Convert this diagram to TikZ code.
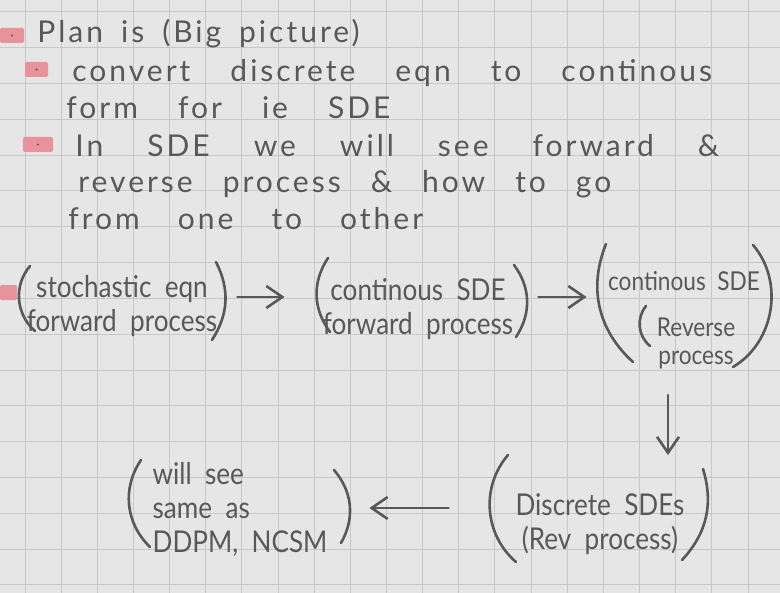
\documentclass[tikz,border=0pt]{standalone}
\usepackage{fontspec}
\usetikzlibrary{arrows.meta,positioning}
\newfontfamily\hand[LetterSpace=10]{Lato}
\newfontfamily\handd[WordSpace=2,FakeStretch=0.87]{Lato}
\definecolor{paperc}{RGB}{230,230,230}
\definecolor{gridc}{RGB}{199,199,199}
\definecolor{inkc}{RGB}{88,88,88}
\definecolor{markc}{RGB}{232,146,156}
% pink bullet: x1,y1,x2,y2
\newcommand\pinkmark[4]{\fill[markc,rounded corners=1pt] (#1,#2) rectangle (#3,#4);}
\newcommand\pinkdot[4]{\pinkmark{#1}{#2}{#3}{#4}\fill[inkc] ({(#1+#3)/2},{(#2+#4)/2}) circle (0.6pt);}
\newcommand\wordgap[1]{\spaceskip=#1\relax}

\begin{document}
\begin{tikzpicture}[x=0.5pt,y=-0.5pt,>={Straight Barb[length=8pt,width=11pt]},
  ink/.style={draw=inkc,line width=1.3pt,line cap=round,line join=round},
  note/.style={anchor=base west,inner sep=0pt,text=inkc,font=\hand\fontsize{15}{17}\selectfont},
  box/.style={inner sep=1pt,text=inkc,align=center,font=\handd\fontsize{15}{17}\selectfont}]
  \useasboundingbox (0,0) rectangle (780,593);
  \fill[paperc] (0,0) rectangle (780,593);
  % squared paper
  \foreach \i in {0,...,20}
    \draw[gridc,line width=0.5pt] ({25+36.15*\i},0) -- ({25+36.15*\i},593);
  \foreach \j in {0,...,16}
    \draw[gridc,line width=0.5pt] (0,{12+35.8*\j}) -- (780,{12+35.8*\j});

  % bullet list (word gaps follow the hand)
  \pinkdot{0}{28}{24}{43}
  \node[note] (l1) at (37,43) {\wordgap{9pt}Plan is (Big picture)};
  \pinkdot{25}{62}{48}{77}
  \node[note] (l2) at (72,82) {\wordgap{20pt}convert discrete eqn to continous};
  \node[note] (l3) at (66,119) {\wordgap{20pt}form for ie SDE};
  \pinkdot{23}{137}{53}{152}
  \node[note] (l4) at (75,157) {\wordgap{22pt}In SDE we will see forward \&};
  \node[note] (l5) at (78,192) {\wordgap{15pt}reverse process \& how to go};
  \node[note] (l6) at (68,229) {\wordgap{19pt}from one to other};

  % flow of processes
  \pinkmark{0}{285}{17}{300}
  \node[box,minimum width=98pt] (stoch) at (122,306) {stochastic eqn\\forward process};
  \draw[ink] (30,266) to[bend right=45] (35,331);
  \draw[ink] (216,262) to[bend left=30] (212,340);
  \node[box,minimum width=98pt] (contfwd) at (418,309) {continous SDE\\forward process};
  \draw[ink] (328,258) to[bend right=35] (330,332);
  \draw[ink] (514,265) to[bend left=35] (516,337);
  \node[box,minimum width=78pt,font=\handd\fontsize{13}{15}\selectfont] (contrev) at (684,281) {continous SDE};
  \node[box,font=\handd\fontsize{13}{14}\selectfont] (revlbl) at (696,343) {Reverse\\process};
  \draw[ink] (606,244) to[bend right=35] (633,362);
  \draw[ink] (753,245) to[bend left=50] (733,367);
  \draw[ink] (646,306) to[bend right=45] (650,346);
  \node[box,minimum width=108pt] (discrev) at (600,524) {Discrete SDEs\\(Rev process)};
  \draw[ink] (508,455) to[bend right=45] (516,562);
  \draw[ink] (703,469) to[bend left=30] (682,560);
  \node[box,align=left,minimum width=92pt] (ddpm) at (240,509) {will see\\same as\\DDPM, NCSM};
  \draw[ink] (141,460) to[bend right=40] (150,547);
  \draw[ink] (334,470) to[bend left=35] (341,543);

  \draw[ink,->] ([xshift=8.5pt,yshift=4.5pt]stoch.east) -- ([xshift=-17.5pt,yshift=6pt]contfwd.west);
  \draw[ink,->] ([xshift=11pt,yshift=6pt]contfwd.east) -- ([xshift=-9.5pt,yshift=-8pt]contrev.west);
  \draw[ink,->] ([xshift=-14pt,yshift=-12pt]revlbl.south) -- ([xshift=34pt,yshift=18pt]discrev.north);
  \draw[ink,->] ([xshift=-21.5pt,yshift=8pt]discrev.west) -- ([xshift=18.5pt,yshift=0.5pt]ddpm.east);
\end{tikzpicture}
\end{document}
